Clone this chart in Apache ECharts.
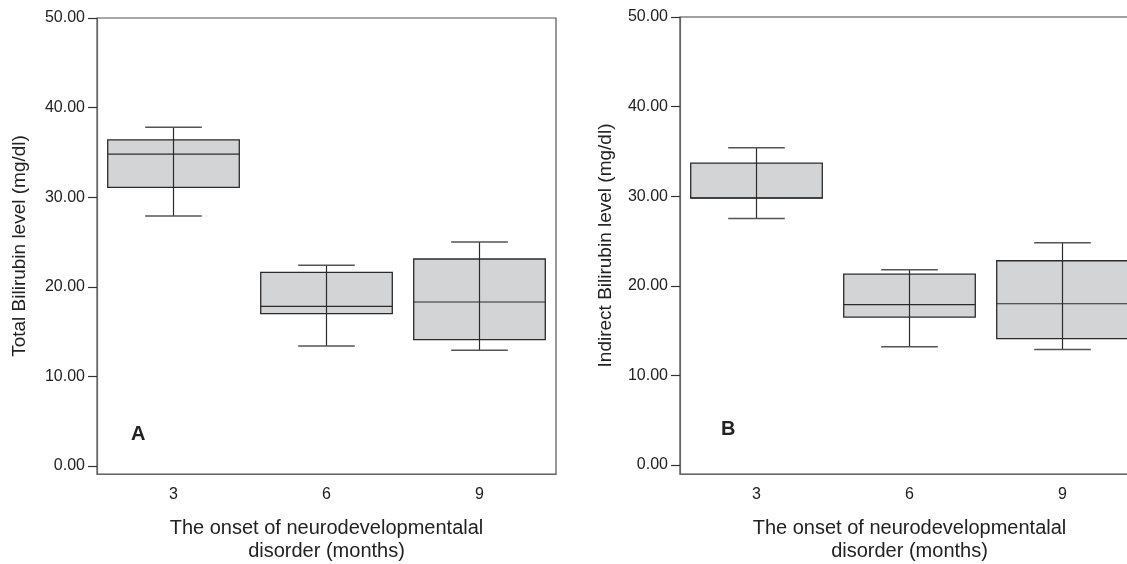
<!DOCTYPE html>
<html>
<head>
    <meta charset="utf-8">
    <title>Bilirubin boxplots</title>
    <script src="https://cdn.jsdelivr.net/npm/echarts@6/dist/echarts.min.js"></script>
    <style type="text/css">
        * { margin: 0; padding: 0; }
        body { background: #fff; }
    </style>
</head>
<body>
<div id="main" style="width: 1127px; height: 564px;"></div>
<script type="text/javascript">
    // onset month categories
    var months = ['3', '6', '9'];
    var yTicks = [0, 10, 20, 30, 40, 50];

    // panel A: total bilirubin (mg/dl)
    var totalLow    = [27.9, 13.4, 12.9];
    var totalQ1     = [31.1, 17.0, 14.1];
    var totalMedian = [34.8, 17.8, 18.3];
    var totalQ3     = [36.4, 21.6, 23.1];
    var totalHigh   = [37.8, 22.4, 25.0];

    // panel B: indirect bilirubin (mg/dl)
    var indirectLow    = [27.5, 13.2, 12.9];
    var indirectQ1     = [29.8, 16.5, 14.1];
    var indirectMedian = [29.8, 17.9, 18.0];
    var indirectQ3     = [33.7, 21.3, 22.8];
    var indirectHigh   = [35.4, 21.8, 24.8];

    var fontName = 'Liberation Sans, Arial, sans-serif';

    function boxRows(low, q1, med, q3, high) {
        return months.map(function (m, i) {
            return [i, low[i], q1[i], med[i], q3[i], high[i]];
        });
    }

    // box drawn SPSS style: whisker passes through the box
    function renderBox(params, api) {
        var i = api.value(0);
        var cx = api.coord([i, api.value(3)])[0];
        var band = api.size([1, 0])[0];
        var bw = band * 0.86;
        var cw = band * 0.37;
        var yLow = api.coord([i, api.value(1)])[1];
        var yQ1 = api.coord([i, api.value(2)])[1];
        var yMed = api.coord([i, api.value(3)])[1];
        var yQ3 = api.coord([i, api.value(4)])[1];
        var yHigh = api.coord([i, api.value(5)])[1];
        var lineStyle = { stroke: '#2b2b2b', lineWidth: 1.2 };
        return {
            type: 'group',
            children: [
                {
                    type: 'rect',
                    shape: { x: cx - bw / 2, y: yQ3, width: bw, height: yQ1 - yQ3 },
                    style: { fill: '#d3d4d6', stroke: '#2b2b2b', lineWidth: 1.3 }
                },
                { type: 'line', shape: { x1: cx, y1: yHigh, x2: cx, y2: yLow }, style: lineStyle },
                { type: 'line', shape: { x1: cx - bw / 2, y1: yMed, x2: cx + bw / 2, y2: yMed }, style: lineStyle },
                { type: 'line', shape: { x1: cx - cw / 2, y1: yHigh, x2: cx + cw / 2, y2: yHigh }, style: { stroke: '#555', lineWidth: 1.5 } },
                { type: 'line', shape: { x1: cx - cw / 2, y1: yLow, x2: cx + cw / 2, y2: yLow }, style: { stroke: '#555', lineWidth: 1.5 } }
            ]
        };
    }

    function xAxisFor(gridIndex) {
        return {
            type: 'category',
            gridIndex: gridIndex,
            data: months,
            boundaryGap: true,
            name: 'The onset of neurodevelopmentalal\ndisorder (months)',
            nameLocation: 'middle',
            nameGap: 43,
            nameTextStyle: { fontFamily: fontName, fontSize: 20, color: '#222', lineHeight: 23 },
            axisLine: { onZero: false, lineStyle: { color: '#666', width: 1.2 } },
            axisTick: { alignWithLabel: true, length: 7, lineStyle: { color: '#333', width: 1.2 } },
            axisLabel: { margin: 13, fontFamily: fontName, fontSize: 16, color: '#222' },
            splitLine: { show: false }
        };
    }

    function yAxisFor(gridIndex, name, min, gap) {
        return {
            type: 'value',
            gridIndex: gridIndex,
            min: min,
            max: 50,
            name: name,
            nameLocation: 'middle',
            nameGap: gap,
            nameTextStyle: { fontFamily: fontName, fontSize: 19, color: '#222' },
            axisLine: { show: true, onZero: false, lineStyle: { color: '#666', width: 1.2 } },
            axisTick: { show: true, length: 9, customValues: yTicks, lineStyle: { color: '#333', width: 1.2 } },
            axisLabel: {
                margin: 12,
                fontFamily: fontName,
                fontSize: 16,
                color: '#222',
                customValues: yTicks,
                formatter: function (v) { return v.toFixed(2); }
            },
            splitLine: { show: false }
        };
    }

    var myChart = echarts.init(document.getElementById('main'), null, { renderer: 'canvas' });

    var option = {
        backgroundColor: '#fff',
        animation: false,
        grid: [
            { left: 97, top: 18, width: 459, height: 456, outerBoundsMode: 'none', containLabel: false, show: true, borderColor: '#555', borderWidth: 1.2, backgroundColor: 'transparent' },
            { left: 680, top: 17, width: 459, height: 457, outerBoundsMode: 'none', containLabel: false, show: true, borderColor: '#444', borderWidth: 1.2, backgroundColor: 'transparent' }
        ],
        xAxis: [xAxisFor(0), xAxisFor(1)],
        yAxis: [
            yAxisFor(0, 'Total Bilirubin level (mg/dl)', -0.9, 68),
            yAxisFor(1, 'Indirect Bilirubin level (mg/dl)', -1.0, 65)
        ],
        graphic: [
            { type: 'text', left: 131, top: 424, style: { text: 'A', font: 'bold 20px ' + fontName, fill: '#222' } },
            { type: 'text', left: 721, top: 419, style: { text: 'B', font: 'bold 20px ' + fontName, fill: '#222' } }
        ],
        series: [
            {
                type: 'custom',
                xAxisIndex: 0,
                yAxisIndex: 0,
                renderItem: renderBox,
                encode: { x: 0, y: [1, 2, 3, 4, 5] },
                data: boxRows(totalLow, totalQ1, totalMedian, totalQ3, totalHigh)
            },
            {
                type: 'custom',
                xAxisIndex: 1,
                yAxisIndex: 1,
                renderItem: renderBox,
                encode: { x: 0, y: [1, 2, 3, 4, 5] },
                data: boxRows(indirectLow, indirectQ1, indirectMedian, indirectQ3, indirectHigh)
            }
        ]
    };

    myChart.setOption(option);

    window.addEventListener('resize', function () {
        myChart.resize();
    });
</script>
</body>
</html>
